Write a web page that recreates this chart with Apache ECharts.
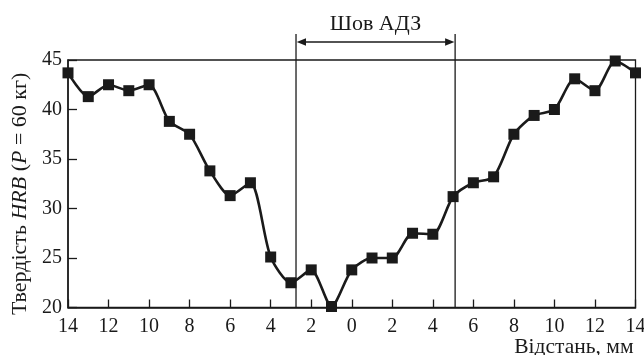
<!DOCTYPE html>
<html>
<head>
<meta charset="utf-8">
<script src="https://cdn.jsdelivr.net/npm/echarts@6/dist/echarts.min.js"></script>
<style>
html,body{margin:0;padding:0;background:#fff;}
#chart{width:644px;height:355px;}
</style>
</head>
<body>
<div id="chart"></div>
<script>
// Distance from weld centre, mm (negative = left side)
const distance = [-14,-13,-12,-11,-10,-9,-8,-7,-6,-5,-4,-3,-2,-1,0,1,2,3,4,5,6,7,8,9,10,11,12,13,14];
// Hardness HRB
const hardness = [43.7,41.3,42.5,41.9,42.5,38.8,37.5,33.8,31.3,32.6,25.1,22.5,23.8,20.1,23.8,25.0,25.0,27.5,27.4,31.2,32.6,33.2,37.5,39.4,40.0,43.1,41.9,44.9,43.7];
// Weld zone boundaries, mm
const weldZone = [-2.75, 5.1];
const weldLabel = 'Шов АДЗ';
const xTicks = {min: -14, max: 14, step: 2};
const yTicks = {min: 20, max: 45, step: 5};

const FONT = "'Liberation Serif','DejaVu Serif',serif";
const INK = '#1a1a1a';

const chart = echarts.init(document.getElementById('chart'), null, {renderer: 'canvas'});

chart.setOption({
  animation: false,
  backgroundColor: '#fff',
  grid: {left: 68, right: 8.5, top: 60, bottom: 47.5, containLabel: false, outerBoundsMode: 'none',
    show: true, borderColor: INK, borderWidth: 1.3, backgroundColor: 'transparent'},
  xAxis: {
    type: 'value', min: xTicks.min, max: xTicks.max, interval: xTicks.step,
    axisLine: {show: true, onZero: false, lineStyle: {color: INK, width: 1.5}},
    axisTick: {show: true, inside: true, length: 8, lineStyle: {color: INK, width: 1.3}},
    axisLabel: {color: INK, fontFamily: FONT, fontSize: 20, margin: 9, hideOverlap: false, formatter: v => String(Math.abs(v))},
    splitLine: {show: false},
    name: 'Відстань, мм', nameLocation: 'end', nameGap: -2,
    nameTextStyle: {color: INK, fontFamily: FONT, fontSize: 21.5, align: 'right', verticalAlign: 'top', padding: [29, 0, 0, 0]}
  },
  yAxis: {
    type: 'value', min: yTicks.min, max: yTicks.max, interval: yTicks.step,
    axisLine: {show: true, onZero: false, lineStyle: {color: INK, width: 1.5}},
    axisTick: {show: true, inside: true, length: 9, lineStyle: {color: INK, width: 1.3}},
    axisLabel: {color: INK, fontFamily: FONT, fontSize: 20, margin: 6},
    splitLine: {show: false},
    name: '{n|Твердість }{i|HRB}{n| (}{i|P}{n| = 60 кг)}',
    nameLocation: 'middle', nameGap: 34, nameRotate: 90,
    nameTextStyle: {
      color: INK, fontFamily: FONT, fontSize: 22,
      padding: [0, 20, 0, 0],
      rich: {
        n: {fontFamily: FONT, fontSize: 22, color: INK},
        i: {fontFamily: FONT, fontSize: 22, color: INK, fontStyle: 'italic'}
      }
    }
  },
  series: [{
    type: 'line',
    data: distance.map((d, i) => [d, hardness[i]]),
    smooth: 0.25,
    symbol: 'rect', symbolSize: 11,
    lineStyle: {color: INK, width: 2.6},
    itemStyle: {color: INK},
    clip: false
  }]
});

// Annotation: weld zone boundaries and arrow, positioned through the chart's scales
function drawAnnotations() {
  const topPx = chart.convertToPixel({gridIndex: 0}, [0, yTicks.max])[1];
  const botPx = chart.convertToPixel({gridIndex: 0}, [0, yTicks.min])[1];
  const xl = chart.convertToPixel({gridIndex: 0}, [weldZone[0], yTicks.min])[0];
  const xr = chart.convertToPixel({gridIndex: 0}, [weldZone[1], yTicks.min])[0];
  const lineTop = topPx - 26;
  const arrowY = topPx - 18;
  const ah = 10, aw = 3.8;
  chart.setOption({
    graphic: [
      {type: 'line', shape: {x1: xl, y1: lineTop, x2: xl, y2: botPx}, style: {stroke: INK, lineWidth: 1.3}, z: 10},
      {type: 'line', shape: {x1: xr, y1: lineTop, x2: xr, y2: botPx}, style: {stroke: INK, lineWidth: 1.3}, z: 10},
      {type: 'line', shape: {x1: xl + ah - 1, y1: arrowY, x2: xr - ah + 1, y2: arrowY}, style: {stroke: INK, lineWidth: 1.3}, z: 10},
      {type: 'polygon', shape: {points: [[xl + 0.7, arrowY], [xl + ah, arrowY - aw], [xl + ah, arrowY + aw]]}, style: {fill: INK}, z: 10},
      {type: 'polygon', shape: {points: [[xr - 0.7, arrowY], [xr - ah, arrowY - aw], [xr - ah, arrowY + aw]]}, style: {fill: INK}, z: 10},
      {type: 'text', x: (xl + xr) / 2, y: arrowY - 7,
        style: {text: weldLabel, fill: INK, font: '22px ' + FONT, textAlign: 'center', textVerticalAlign: 'bottom'}, z: 10}
    ]
  });
}
drawAnnotations();
</script>
</body>
</html>
